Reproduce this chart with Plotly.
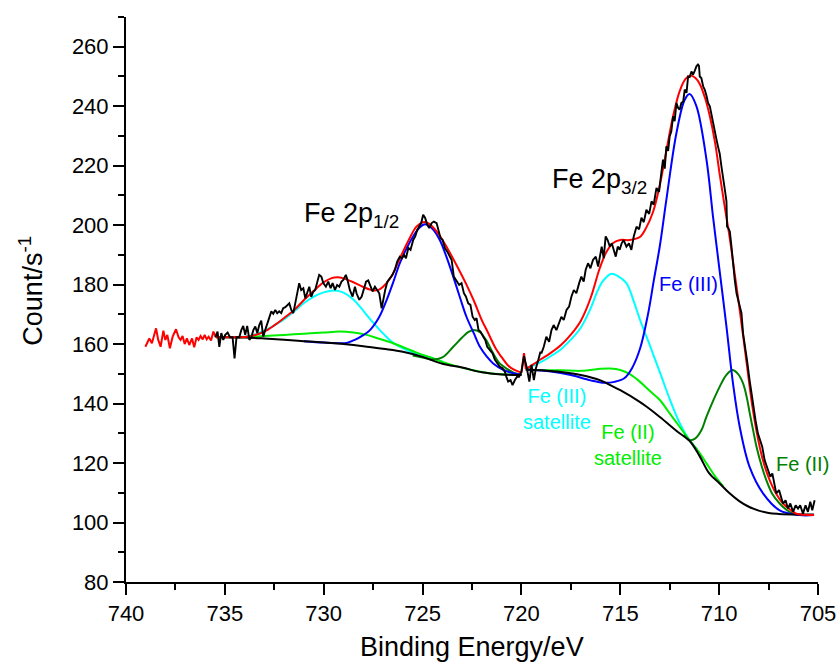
import plotly.graph_objects as go

# ---------------- measured spectrum (binding energy / eV, counts per s) ----------------
raw_red_be = [739.02, 738.82, 738.69, 738.48, 738.37, 738.25, 738.11, 738.01, 737.91, 737.78,
              737.64, 737.47, 737.34, 737.24, 737.14, 737.03, 736.92, 736.80, 736.66, 736.55,
              736.43, 736.33, 736.23, 736.12, 736.02, 735.92, 735.82, 735.70, 735.58, 735.45]
raw_red_cps = [159.1, 161.9, 160.3, 165.3, 161.4, 159.1, 164.5, 161.4, 163.1, 158.6,
               162.5, 165.0, 162.3, 161.4, 162.7, 160.0, 161.9, 159.7, 161.9, 158.9,
               162.3, 161.4, 162.7, 161.6, 163.1, 161.6, 162.5, 161.2, 164.2, 162.3]

data_be = [735.48, 735.37, 735.28, 735.18, 735.08, 734.98, 734.86, 734.74, 734.61, 734.51,
           734.41, 734.27, 734.17, 734.07, 733.97, 733.87, 733.76, 733.66, 733.56, 733.46,
           733.36, 733.26, 733.16, 733.06, 732.96, 732.85, 732.75, 732.65, 732.55, 732.45,
           732.35, 732.25, 732.15, 732.05, 731.94, 731.84, 731.74, 731.64, 731.54, 731.44,
           731.34, 731.24, 731.14, 731.03, 730.93, 730.83, 730.73, 730.63, 730.53, 730.43,
           730.33, 730.23, 730.12, 730.02, 729.89, 729.77, 729.65, 729.55, 729.43, 729.32,
           729.21, 729.10, 729.01, 728.88, 728.80, 728.68, 728.54, 728.42, 728.34, 728.20,
           728.08, 727.97, 727.86, 727.75, 727.63, 727.53, 727.41, 727.29, 727.19, 727.07,
           726.99, 726.89, 726.78, 726.65, 726.52, 726.40, 726.28, 726.15, 726.04, 725.94,
           725.84, 725.72, 725.61, 725.47, 725.37, 725.27, 725.17, 725.07, 724.97, 724.87,
           724.76, 724.66, 724.54, 724.43, 724.29, 724.19, 724.09, 723.99, 723.87, 723.75,
           723.65, 723.53, 723.42, 723.28, 723.15, 723.03, 722.91, 722.81, 722.69, 722.58,
           722.47, 722.36, 722.27, 722.17, 722.07, 721.93, 721.83, 721.73, 721.60, 721.46,
           721.34, 721.23, 721.09, 720.96, 720.84, 720.76, 720.67, 720.55, 720.45, 720.33,
           720.22, 720.12, 720.00, 719.87, 719.74, 719.60, 719.49, 719.37, 719.27, 719.15,
           719.04, 718.99, 718.87, 718.74, 718.60, 718.48, 718.37, 718.23, 718.10, 717.98,
           717.86, 717.72, 717.59, 717.47, 717.35, 717.22, 717.08, 716.97, 716.85, 716.75,
           716.63, 716.51, 716.38, 716.24, 716.12, 716.04, 715.94, 715.84, 715.74, 715.64,
           715.53, 715.43, 715.33, 715.23, 715.13, 715.03, 714.93, 714.83, 714.69, 714.56,
           714.44, 714.32, 714.18, 714.05, 713.93, 713.81, 713.68, 713.54, 713.42, 713.31,
           713.17, 713.04, 712.92, 712.84, 712.75, 712.67, 712.58, 712.50, 712.42, 712.33,
           712.25, 712.16, 712.08, 712.00, 711.91, 711.82, 711.74, 711.65, 711.57, 711.49,
           711.40, 711.32, 711.23, 711.15, 711.07, 711.02, 710.98, 710.90, 710.81, 710.73,
           710.64, 710.56, 710.47, 710.39, 710.31, 710.22, 710.14, 710.06, 709.97, 709.88,
           709.80, 709.71, 709.63, 709.60, 709.54, 709.46, 709.38, 709.29, 709.21, 709.12,
           708.99, 708.87, 708.79, 708.71, 708.59, 708.46, 708.37, 708.29, 708.16, 708.04,
           707.92, 707.82, 707.70, 707.61, 707.53, 707.41, 707.31, 707.19, 707.11, 706.97,
           706.86, 706.77, 706.64, 706.52, 706.40, 706.26, 706.13, 706.01, 705.90, 705.76,
           705.63, 705.51, 705.39, 705.29, 705.17]
data_cps = [162.3, 164.2, 159.1, 163.7, 161.4, 163.1, 163.9, 162.3, 162.3, 155.2,
            162.3, 162.3, 164.7, 166.1, 163.1, 166.1, 161.4, 162.3, 164.7, 165.9,
            163.7, 166.4, 167.9, 162.5, 164.7, 167.0, 168.7, 171.0, 170.2, 171.5,
            170.4, 171.0, 170.4, 172.1, 172.4, 173.2, 173.7, 171.5, 170.4, 173.7,
            177.1, 180.5, 178.2, 178.8, 175.4, 177.6, 179.3, 175.9, 177.6, 178.2,
            180.5, 183.3, 182.7, 180.5, 179.3, 181.0, 178.8, 180.5, 178.2, 179.9,
            179.3, 181.0, 181.6, 183.3, 181.6, 178.2, 176.0, 179.3, 177.1, 174.9,
            176.0, 178.8, 181.0, 181.4, 179.3, 177.7, 179.3, 178.2, 177.1, 172.0,
            174.9, 178.2, 181.0, 182.2, 183.3, 185.0, 187.8, 189.4, 188.9, 190.0,
            188.9, 192.3, 191.7, 195.1, 196.2, 198.4, 199.5, 200.7, 203.5, 202.4,
            200.1, 199.0, 200.7, 201.2, 200.7, 198.4, 195.6, 195.1, 192.3, 191.1,
            190.0, 188.3, 182.7, 181.0, 179.9, 180.5, 177.1, 176.0, 173.7, 173.2,
            169.2, 168.1, 168.7, 164.7, 164.2, 162.5, 161.4, 159.1, 158.0, 156.9,
            154.7, 153.5, 152.4, 151.9, 150.7, 149.0, 147.4, 147.9, 146.2, 147.9,
            149.0, 149.0, 150.7, 156.0, 152.4, 147.4, 153.0, 147.9, 151.8, 154.6,
            157.4, 156.9, 159.1, 162.5, 160.8, 164.7, 166.4, 164.7, 167.0, 169.2,
            168.1, 171.5, 172.6, 176.0, 178.2, 177.1, 180.5, 182.7, 181.0, 185.0,
            187.2, 185.5, 188.3, 189.4, 186.1, 189.4, 192.8, 188.9, 196.2, 195.0,
            192.8, 193.9, 191.7, 189.4, 192.8, 191.7, 193.9, 195.0, 192.8, 193.9,
            191.7, 196.2, 199.5, 198.6, 202.5, 201.0, 205.2, 203.8, 208.0, 206.9,
            212.5, 211.2, 217.8, 222.0, 219.0, 226.5, 225.0, 229.9, 231.5, 236.6,
            235.0, 241.1, 239.5, 238.8, 241.1, 241.5, 245.6, 244.5, 250.0, 249.8,
            251.7, 250.6, 252.0, 253.4, 254.0, 253.6, 250.0, 249.5, 246.7, 245.6,
            243.5, 241.1, 240.0, 237.0, 234.3, 231.0, 229.0, 226.5, 224.0, 219.5,
            216.5, 211.9, 208.0, 199.5, 199.0, 197.9, 193.0, 186.0, 181.6, 177.1,
            173.7, 170.4, 163.6, 160.3, 154.6, 147.9, 143.4, 141.2, 134.4, 130.0,
            127.7, 125.5, 121.0, 119.3, 117.6, 115.4, 116.5, 113.1, 109.8, 110.9,
            108.6, 106.4, 107.5, 104.7, 106.4, 103.6, 105.8, 104.7, 105.8, 103.0,
            105.8, 103.6, 107.0, 104.1, 107.5]

# ---------------- Fe 2p1/2 fit ----------------
bg1_be = [735.45, 734.0, 733.0, 732.0, 731.0, 730.0, 729.0, 728.0, 727.0, 726.0,
          725.0, 724.0, 723.0, 722.0, 721.0, 720.0]
bg1_cps = [162.3, 162.2, 161.9, 161.5, 161.0, 160.5, 160.0, 159.3, 158.4, 157.4,
           155.7, 153.4, 152.1, 150.5, 149.8, 149.6]

fe3sat1_be = [734.5, 734.0, 733.5, 733.0, 732.5, 732.05, 731.5, 731.0, 730.5, 730.0,
              729.43, 729.0, 728.5, 728.17, 727.6, 727.0, 726.5, 725.81, 725.2, 724.6, 724.0]
fe3sat1_cps = [162.3, 162.5, 163.2, 164.5, 166.3, 168.1, 171.0, 173.8, 176.0, 177.4,
               178.0, 177.3, 175.0, 172.6, 168.0, 163.6, 160.5, 158.0, 156.6, 155.4, 154.2]

fe2sat1_be = [734.5, 734.0, 733.0, 732.0, 731.0, 730.0, 729.2, 728.5, 727.83, 727.2,
              726.49, 725.8, 725.2, 724.63, 724.0, 723.3, 722.5, 721.5, 720.5, 720.0]
fe2sat1_cps = [162.3, 162.4, 162.7, 163.1, 163.5, 163.9, 164.2, 163.9, 163.1, 161.8,
               160.3, 158.5, 156.9, 155.6, 154.0, 152.6, 151.3, 150.1, 149.7, 149.6]

fe3_1_be = [731.0, 730.0, 729.3, 728.84, 728.4, 728.0, 727.66, 727.2, 726.82, 726.5,
            726.15, 725.8, 725.48, 725.15, 724.88, 724.5, 724.13, 723.8, 723.45, 723.1,
            722.78, 722.4, 722.1, 721.75, 721.43, 720.9, 720.42, 720.0]
fe3_1_cps = [161.0, 160.5, 160.3, 160.4, 161.5, 163.0, 164.7, 169.0, 174.8, 180.5,
             187.2, 192.3, 196.2, 199.2, 200.3, 198.8, 195.0, 189.5, 182.7, 175.5,
             169.2, 163.5, 159.1, 155.8, 153.5, 151.3, 150.2, 149.7]

fe2_1_be = [725.5, 725.0, 724.5, 724.0, 723.45, 723.0, 722.7, 722.44, 722.1, 721.8,
            721.43, 721.1, 720.76, 720.4, 720.0]
fe2_1_cps = [156.2, 155.5, 154.8, 155.5, 159.1, 162.2, 164.0, 164.7, 164.0, 161.5,
             156.9, 153.5, 151.8, 150.4, 149.7]

env1_be = [735.45, 735.0, 734.5, 734.0, 733.5, 733.0, 732.5, 732.0, 731.54, 731.0,
           730.36, 730.0, 729.6, 729.3, 729.0, 728.5, 728.0, 727.5, 727.2, 727.0,
           726.6, 726.15, 725.7, 725.3, 724.97, 724.7, 724.3, 723.9, 723.6, 723.2,
           722.78, 722.4, 722.0, 721.7, 721.3, 721.0, 720.7, 720.4, 720.0]
env1_cps = [162.3, 162.3, 162.3, 162.4, 163.0, 164.2, 166.3, 168.8, 171.2, 174.8,
            178.8, 180.8, 182.2, 182.5, 182.1, 180.8, 179.2, 178.1, 178.3, 179.3,
            182.5, 188.8, 195.0, 199.6, 201.0, 200.6, 198.0, 194.0, 190.5, 185.5,
            180.0, 174.5, 168.0, 164.0, 158.5, 155.6, 153.0, 151.5, 150.4]

# junction between the two fitted windows
join_be = [720.0, 719.87, 719.78]
join_cps = [150.4, 157.0, 151.6]

# ---------------- Fe 2p3/2 fit ----------------
bg2_be = [719.78, 719.0, 718.0, 717.0, 716.0, 715.36, 715.0, 714.0, 713.68, 713.0,
          712.0, 711.5, 711.0, 710.5, 710.0, 709.5, 709.0, 708.5, 708.0, 707.5,
          707.0, 706.0, 705.2]
bg2_cps = [151.5, 151.2, 150.6, 149.6, 147.8, 145.7, 144.5, 140.5, 139.0, 135.5,
           130.0, 127.5, 122.5, 116.5, 113.3, 110.0, 107.3, 105.3, 104.0, 103.2,
           102.9, 102.7, 102.7]

fe3sat2_be = [719.78, 719.4, 719.0, 718.5, 718.0, 717.5, 717.0, 716.5, 716.2, 715.9,
              715.48, 715.1, 714.69, 714.3, 714.0, 713.5, 713.0, 712.5, 712.0, 711.5, 711.1]
fe3sat2_cps = [151.8, 152.8, 154.0, 156.0, 158.3, 161.5, 165.5, 172.0, 177.1, 181.0,
               183.6, 182.8, 180.5, 174.0, 168.1, 159.5, 150.6, 141.5, 133.5, 127.7, 124.5]

fe2sat2_be = [719.78, 719.0, 718.0, 717.0, 716.5, 716.0, 715.5, 715.0, 714.5, 714.0,
              713.5, 713.0, 712.5, 712.0, 711.5, 711.0, 710.64, 710.2, 709.8]
fe2sat2_cps = [151.5, 151.3, 151.2, 151.0, 151.3, 151.7, 151.8, 151.3, 149.8, 147.3,
               144.2, 141.2, 136.7, 132.2, 127.7, 123.5, 119.9, 115.5, 112.2]

fe3_2_be = [719.78, 718.5, 717.5, 716.5, 715.8, 715.3, 714.8, 714.4, 714.0, 713.6,
            713.3, 713.0, 712.67, 712.16, 711.74, 711.49, 711.15, 710.64, 710.31, 710.0,
            709.63, 709.3, 708.96, 708.46, 707.78, 706.94, 705.93, 705.2]
fe3_2_cps = [151.5, 150.8, 149.6, 147.8, 147.0, 147.3, 148.5, 152.0, 158.5, 170.0,
             181.6, 193.0, 208.5, 231.0, 242.2, 244.1, 240.0, 222.0, 202.9, 186.0,
             165.9, 146.8, 132.2, 118.7, 109.8, 104.1, 102.5, 102.5]

fe2_2_be = [711.8, 711.49, 711.2, 710.9, 710.64, 710.3, 709.97, 709.65, 709.33, 709.05,
            708.79, 708.6, 708.45, 708.28, 708.11, 707.85, 707.61, 707.3, 706.94, 706.6,
            706.26, 705.8, 705.2]
fe2_2_cps = [129.5, 127.7, 128.3, 131.0, 135.6, 141.0, 145.7, 149.5, 151.3, 150.0,
             146.8, 142.0, 136.7, 131.0, 125.5, 119.0, 114.2, 109.5, 106.4, 104.3,
             103.0, 102.6, 102.5]

env2_be = [719.78, 719.4, 719.0, 718.57, 718.0, 717.5, 717.0, 716.5, 716.04, 715.7,
           715.36, 715.0, 714.52, 714.01, 713.7, 713.34, 713.0, 712.67, 712.33, 712.0,
           711.7, 711.45, 711.2, 710.98, 710.7, 710.47, 710.2, 709.97, 709.7, 709.46,
           709.2, 708.96, 708.63, 708.29, 707.95, 707.7, 707.44, 707.1, 706.77, 706.4,
           706.1, 705.7, 705.2]
env2_cps = [151.6, 153.2, 155.0, 156.8, 159.7, 163.2, 167.8, 175.5, 185.5, 191.0,
            194.0, 195.0, 195.0, 196.0, 199.0, 204.5, 213.5, 225.0, 236.6, 245.0,
            249.2, 250.3, 249.5, 247.5, 242.5, 236.6, 227.5, 217.0, 205.5, 195.5,
            183.0, 171.5, 154.7, 137.8, 125.5, 119.0, 114.2, 109.5, 106.4, 104.3,
            103.0, 102.6, 102.5]

# ---------------- styling ----------------
FONT = "Liberation Sans, Arial, sans-serif"
RED, BLUE, CYAN = "#ff0000", "#0000ff", "#00ffff"
LIME, DKGREEN, BLACK = "#00ee00", "#008000", "#000000"
LW = 2

fig = go.Figure()


def smooth(x, y, color):
    fig.add_trace(go.Scatter(x=x, y=y, mode="lines", hoverinfo="skip",
                             line=dict(color=color, width=LW, shape="spline", smoothing=1.0)))


def jagged(x, y, color, width=LW):
    fig.add_trace(go.Scatter(x=x, y=y, mode="lines", hoverinfo="skip",
                             line=dict(color=color, width=width, shape="linear")))


# fitted components
smooth(fe3sat1_be, fe3sat1_cps, CYAN)
smooth(fe2sat1_be, fe2sat1_cps, LIME)
smooth(fe2_1_be, fe2_1_cps, DKGREEN)
smooth(fe3_1_be, fe3_1_cps, BLUE)
smooth(fe3sat2_be, fe3sat2_cps, CYAN)
smooth(fe2sat2_be, fe2sat2_cps, LIME)
smooth(fe2_2_be, fe2_2_cps, DKGREEN)
smooth(fe3_2_be, fe3_2_cps, BLUE)
# backgrounds
smooth(bg1_be, bg1_cps, BLACK)
smooth(bg2_be, bg2_cps, BLACK)
# envelopes
jagged(raw_red_be, raw_red_cps, RED)
smooth(env1_be, env1_cps, RED)
jagged(join_be, join_cps, RED)
smooth(env2_be, env2_cps, RED)
# measured counts
jagged(data_be, data_cps, BLACK, 1.9)

# ---------------- text labels ----------------
labels = [
    dict(x=731.12, y=203.5, text="Fe 2p<sub>1/2</sub>", color=BLACK, size=27, xanchor="left"),
    dict(x=718.53, y=215.0, text="Fe 2p<sub>3/2</sub>", color=BLACK, size=27, xanchor="left"),
    dict(x=711.57, y=180.2, text="Fe (III)", color=BLUE, size=20, xanchor="center"),
    dict(x=718.21, y=138.1, text="Fe (III)<br>satellite", color=CYAN, size=20, xanchor="center"),
    dict(x=714.62, y=126.0, text="Fe (II)<br>satellite", color=LIME, size=20, xanchor="center"),
    dict(x=705.76, y=119.6, text="Fe (II)", color=DKGREEN, size=20, xanchor="center"),
]
for lb in labels:
    fig.add_annotation(x=lb["x"], y=lb["y"], xref="x", yref="y", text=lb["text"],
                       showarrow=False, xanchor=lb["xanchor"], yanchor="middle",
                       font=dict(family=FONT, size=lb["size"], color=lb["color"]))

# axis titles
fig.add_annotation(x=0.5, y=-0.1145, xref="paper", yref="paper", text="Binding Energy/eV",
                   showarrow=False, xanchor="center", yanchor="middle",
                   font=dict(family=FONT, size=27, color=BLACK))
fig.add_annotation(x=-0.137, y=0.516, xref="paper", yref="paper", text="Count/s<sup>-1</sup>",
                   showarrow=False, xanchor="center", yanchor="middle", textangle=-90,
                   font=dict(family=FONT, size=27, color=BLACK))

axis_common = dict(showline=True, linewidth=2, linecolor=BLACK, ticks="outside",
                   ticklen=11, tickwidth=2, tickcolor=BLACK, showgrid=False, zeroline=False,
                   mirror=False, automargin=False,
                   tickfont=dict(family=FONT, size=22, color=BLACK))

fig.update_xaxes(range=[740, 705], tick0=705, dtick=5,
                 minor=dict(dtick=2.5, ticklen=6, tickwidth=2, tickcolor=BLACK, ticks="outside"),
                 **axis_common)
fig.update_yaxes(range=[80, 270], tick0=80, dtick=20,
                 minor=dict(dtick=10, ticklen=6, tickwidth=2, tickcolor=BLACK, ticks="outside"),
                 **axis_common)

fig.update_layout(width=838, height=663, showlegend=False,
                  margin=dict(l=126, r=20, t=17, b=81, pad=0),
                  paper_bgcolor="white", plot_bgcolor="white")

fig.write_html("out.html")
